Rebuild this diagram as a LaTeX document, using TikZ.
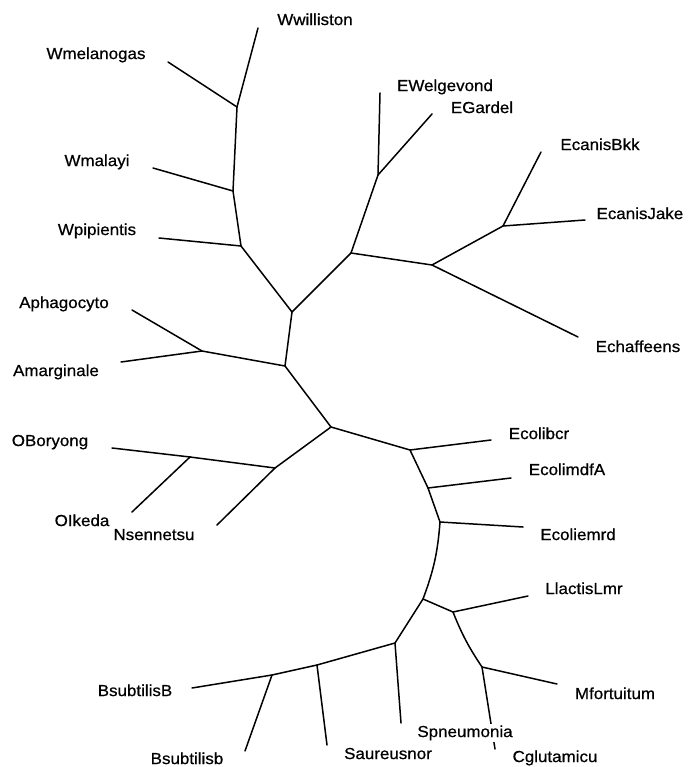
\documentclass[tikz,border=0pt]{standalone}
\usepackage{fontspec}
\setmainfont{Liberation Sans}[FakeStretch=1.06, FakeBold=0.6]

\begin{document}
\begin{tikzpicture}[x=1pt, y=-1pt, line width=1.5pt]
        % Define styles
        \tikzstyle{taxon} = [font=\fontsize{16}{18}\selectfont, inner sep=2pt, fill=white, text height=11.5pt, text depth=3.4pt]
        \tikzstyle{branch} = [draw, line cap=round, line join=round]

        \useasboundingbox (0,0) rectangle (687,767);

        % Inner nodes of the tree
        \coordinate (j1) at (292,312);
        \coordinate (j2) at (285,366);
        \coordinate (j3) at (331,427);
        \coordinate (w3) at (241,246);
        \coordinate (w2) at (233,191);
        \coordinate (w1) at (237,107);
        \coordinate (e0) at (351,253);
        \coordinate (ew) at (378,175);
        \coordinate (ec) at (432,265);
        \coordinate (eck) at (503,226);
        \coordinate (an) at (202,351);
        \coordinate (on) at (275,468);
        \coordinate (oi) at (190,457);
        \coordinate (co1) at (410,450);
        \coordinate (co2) at (428,488);
        \coordinate (co3) at (440,522);
        \coordinate (bn) at (423,599);
        \coordinate (ln) at (453,612);
        \coordinate (mn) at (482,667);
        \coordinate (sn) at (395,643);
        \coordinate (nn) at (317,665);
        \coordinate (bs) at (272,675);

        % Leaf ends
        \coordinate (lWwil) at (258,28);
        \coordinate (lWmel) at (168,62);
        \coordinate (lWmal) at (153,168);
        \coordinate (lWpip) at (159,238);
        \coordinate (lEWel) at (380,93);
        \coordinate (lEGar) at (432,114);
        \coordinate (lEBkk) at (541,152);
        \coordinate (lEJak) at (585,220);
        \coordinate (lEcha) at (578,337);
        \coordinate (lApha) at (132,310);
        \coordinate (lAmar) at (121,362);
        \coordinate (lOBor) at (112,448);
        \coordinate (lOIke) at (132,512);
        \coordinate (lNsen) at (217,525);
        \coordinate (lEbcr) at (491,440);
        \coordinate (lEmdf) at (511,478);
        \coordinate (lEemr) at (523,527);
        \coordinate (lLlac) at (528,596);
        \coordinate (lMfor) at (557,684);
        \coordinate (lCglu) at (495,749);
        \coordinate (lSpne) at (401,723);
        \coordinate (lSaur) at (327,745);
        \coordinate (lBsub) at (245,751);
        \coordinate (lBsuB) at (192,688);

        % Draw branches
        \draw [branch] (j1) -- (w3);
        \draw [branch] (w3) -- (lWpip);
        \draw [branch] (w3) -- (w2);
        \draw [branch] (w2) -- (lWmal);
        \draw [branch] (w2) -- (w1);
        \draw [branch] (w1) -- (lWmel);
        \draw [branch] (w1) -- (lWwil);
        \draw [branch] (j1) -- (e0);
        \draw [branch] (e0) -- (ew);
        \draw [branch] (ew) -- (lEWel);
        \draw [branch] (ew) -- (lEGar);
        \draw [branch] (e0) -- (ec);
        \draw [branch] (ec) -- (lEcha);
        \draw [branch] (ec) -- (eck);
        \draw [branch] (eck) -- (lEBkk);
        \draw [branch] (eck) -- (lEJak);
        \draw [branch] (j1) -- (j2);
        \draw [branch] (j2) -- (an);
        \draw [branch] (an) -- (lApha);
        \draw [branch] (an) -- (lAmar);
        \draw [branch] (j2) -- (j3);
        \draw [branch] (j3) -- (on);
        \draw [branch] (on) -- (lNsen);
        \draw [branch] (on) -- (oi);
        \draw [branch] (oi) -- (lOBor);
        \draw [branch] (oi) -- (lOIke);
        \draw [branch] (j3) -- (co1);
        \draw [branch] (co1) -- (lEbcr);
        \draw [branch] (co1) -- (co2);
        \draw [branch] (co2) -- (lEmdf);
        \draw [branch] (co2) -- (co3);
        \draw [branch] (co3) -- (lEemr);
        \draw [branch] (co3) to[bend left=8] (bn);
        \draw [branch] (bn) -- (ln);
        \draw [branch] (ln) -- (lLlac);
        \draw [branch] (ln) to[bend right=6] (mn);
        \draw [branch] (mn) -- (lMfor);
        \draw [branch] (mn) -- (lCglu);
        \draw [branch] (bn) -- (sn);
        \draw [branch] (sn) -- (lSpne);
        \draw [branch] (sn) -- (nn);
        \draw [branch] (nn) -- (lSaur);
        \draw [branch] (nn) -- (bs);
        \draw [branch] (bs) -- (lBsub);
        \draw [branch] (bs) -- (lBsuB);

        % Taxon labels
        \node [taxon] (tWwil) at (315,21) {Wwilliston};
        \node [taxon] (tWmel) at (96,55) {Wmelanogas};
        \node [taxon] (tWmal) at (97,162) {Wmalayi};
        \node [taxon] (tWpip) at (97,231) {Wpipientis};
        \node [taxon] (tEWel) at (445,87) {EWelgevond};
        \node [taxon] (tEGar) at (482,109) {EGardel};
        \node [taxon] (tEBkk) at (600,146) {EcanisBkk};
        \node [taxon, anchor=east] (tEJak) at (686,215) {EcanisJake};
        \node [taxon] (tEcha) at (638,348) {Echaffeens};
        \node [taxon] (tApha) at (64,304) {Aphagocyto};
        \node [taxon] (tAmar) at (56,372) {Amarginale};
        \node [taxon] (tOBor) at (50,442) {OBoryong};
        \node [taxon] (tOIke) at (82,522) {OIkeda};
        \node [taxon] (tNsen) at (154,536) {Nsennetsu};
        \node [taxon] (tEbcr) at (539,435) {Ecolibcr};
        \node [taxon] (tEmdf) at (567,471) {EcolimdfA};
        \node [taxon] (tEemr) at (578,536) {Ecoliemrd};
        \node [taxon] (tLlac) at (584,590) {LlactisLmr};
        \node [taxon] (tMfor) at (615,695) {Mfortuitum};
        \node [taxon] (tSpne) at (465,733) {Spneumonia};
        \node [taxon] (tCglu) at (555,758) {Cglutamicu};
        \node [taxon] (tSaur) at (388,755) {Saureusnor};
        \node [taxon] (tBsub) at (187,760) {Bsubtilisb};
        \node [taxon] (tBsuB) at (135,692) {BsubtilisB};
\end{tikzpicture}
\end{document}
